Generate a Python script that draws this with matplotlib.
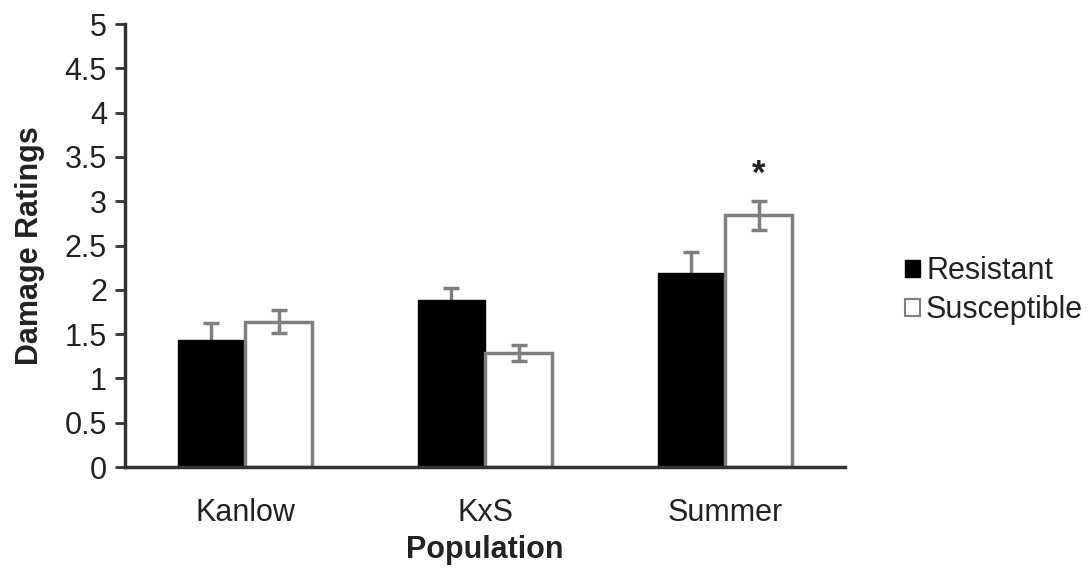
import numpy as np
import matplotlib.pyplot as plt
from matplotlib.patches import Patch

plt.rcParams['font.family'] = ['Liberation Sans', 'DejaVu Sans']

populations = ["Kanlow", "KxS", "Summer"]
resistant = [1.43, 1.88, 2.19]
resistant_err = [0.19, 0.14, 0.24]
susceptible = [1.64, 1.29, 2.84]
susceptible_err = [0.13, 0.09, 0.16]
yticks = [0, 0.5, 1, 1.5, 2, 2.5, 3, 3.5, 4, 4.5, 5]
ytick_labels = ["0", "0.5", "1", "1.5", "2", "2.5", "3", "3.5", "4", "4.5", "5"]

GREY = "#7f7f7f"
TXT = "#222222"
w = 0.28
x = np.arange(len(populations))

fig = plt.figure(figsize=(10.91, 5.76), dpi=100)
ax = fig.add_axes([0.1146, 0.1892, 0.66, 0.7691])

# resistant: error bars behind the black bars so only the top half shows
ax.errorbar(x - w / 2, resistant, yerr=resistant_err, fmt='none',
            ecolor=GREY, elinewidth=2.5, capsize=6, capthick=2.5, zorder=1)
ax.bar(x - w / 2, resistant, w, color='black', edgecolor='black',
       linewidth=1, zorder=2)
ax.bar(x + w / 2, susceptible, w, color='white', edgecolor=GREY,
       linewidth=2.5, zorder=2)
ax.errorbar(x + w / 2, susceptible, yerr=susceptible_err, fmt='none',
            ecolor=GREY, elinewidth=2.5, capsize=6, capthick=2.5, zorder=3)

# significance marker
ax.text(x[2] + w / 2, susceptible[2] + susceptible_err[2] + 0.12, "*",
        ha='center', va='bottom', fontsize=25, fontweight='bold', color=TXT)

ax.set_xlim(-0.5, 2.5)
ax.set_ylim(0, 5)
ax.set_yticks(yticks)
ax.set_yticklabels(ytick_labels)
ax.set_xticks(x)
ax.set_xticklabels(populations)
ax.tick_params(axis='y', direction='out', length=7, width=2,
               labelsize=22, labelcolor=TXT, pad=6, color='#333333')
ax.tick_params(axis='x', length=0, labelsize=22, labelcolor=TXT, pad=22)
for s in ['top', 'right']:
    ax.spines[s].set_visible(False)
for s in ['left', 'bottom']:
    ax.spines[s].set_linewidth(2.5)
    ax.spines[s].set_color('#333333')

ax.set_xlabel("Population", fontsize=22, fontweight='bold', color=TXT,
              labelpad=5)
ax.set_ylabel("Damage Ratings", fontsize=22, fontweight='bold', color=TXT,
              labelpad=14)

handles = [Patch(facecolor='black', edgecolor='black', label='Resistant'),
           Patch(facecolor='white', edgecolor=GREY, linewidth=1.5,
                 label='Susceptible')]
fig.legend(handles=handles, loc='center left',
           bbox_to_anchor=(0.804, 0.495), frameon=False, fontsize=22,
           handlelength=0.5, handleheight=0.5, handletextpad=0.2,
           labelspacing=0.3, labelcolor=TXT)

fig.savefig("out.png", dpi=100)
